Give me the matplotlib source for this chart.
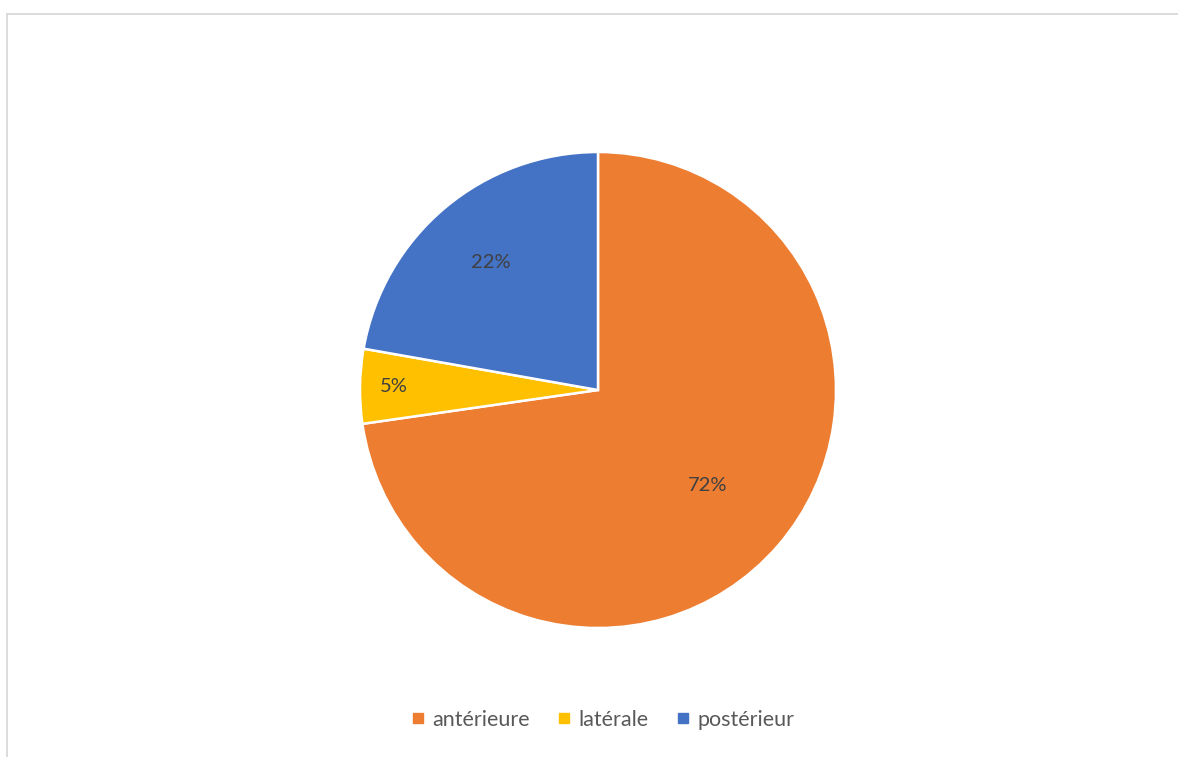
import matplotlib
matplotlib.use("Agg")
import matplotlib.pyplot as plt
from matplotlib.lines import Line2D
import numpy as np

categories = ["antérieure", "latérale", "postérieur"]
values = [72, 5, 22]
colors = ["#ED7D31", "#FFC000", "#4472C4"]
label_radius = [0.61, 0.86, 0.70]

plt.rcParams["font.family"] = ["Lato", "DejaVu Sans"]

W, H = 1178, 757
fig = plt.figure(figsize=(W / 100, H / 100), dpi=100)
fig.patch.set_facecolor("white")

# pie placement in pixels
cx, cy, r = 598, 390, 238
ax = fig.add_axes([(cx - r) / W, (H - cy - r) / H, 2 * r / W, 2 * r / H])
wedges, _ = ax.pie(values, colors=colors, startangle=90, counterclock=False,
                   radius=1.0, wedgeprops=dict(edgecolor="white", linewidth=1.8))
ax.set_xlim(-1, 1)
ax.set_ylim(-1, 1)
ax.set_aspect("equal")
ax.axis("off")

for w, v, rr in zip(wedges, values, label_radius):
    ang = np.deg2rad((w.theta1 + w.theta2) / 2)
    ax.text(rr * np.cos(ang), rr * np.sin(ang), f"{v}%", ha="center", va="center",
            fontsize=14.5, color="#404040")

handles = [Line2D([0], [0], marker="s", linestyle="none", markersize=7,
                  markerfacecolor=c, markeredgecolor=c) for c in colors]
fig.legend(handles, categories, loc="center", bbox_to_anchor=(603 / W, 1 - 720 / H),
           ncol=3, frameon=False, fontsize=15.5, labelcolor="#595959",
           handlelength=0.6, handletextpad=0.35, columnspacing=1.3)

# chart area border (top and left edges)
lc = "#D9D9D9"
fig.add_artist(Line2D([6.5 / W, 1], [1 - 13.5 / H, 1 - 13.5 / H], color=lc, linewidth=1.3,
                      transform=fig.transFigure))
fig.add_artist(Line2D([6.5 / W, 6.5 / W], [0, 1 - 13.5 / H], color=lc, linewidth=1.3,
                      transform=fig.transFigure))

fig.savefig("out.png", dpi=100, facecolor="white")
